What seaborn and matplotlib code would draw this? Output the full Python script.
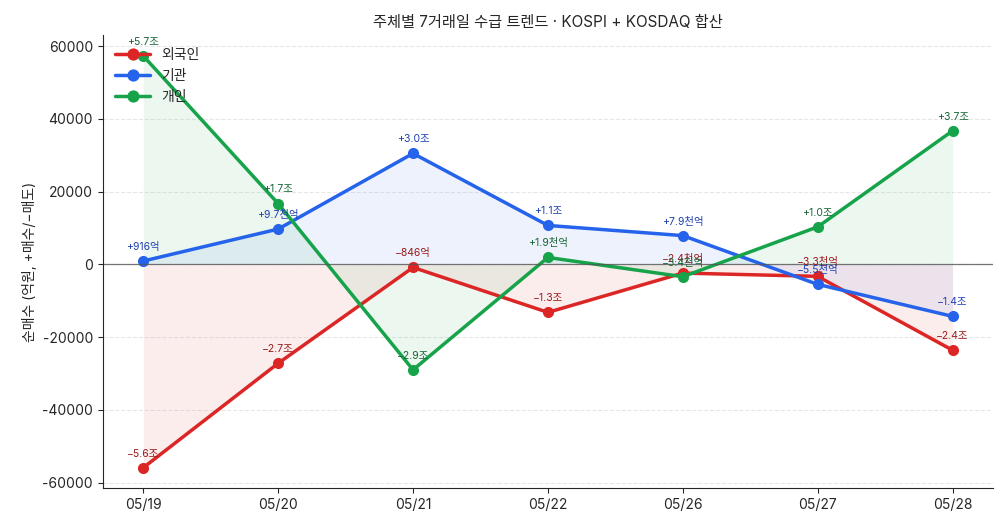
import numpy as np
import pandas as pd
import matplotlib
matplotlib.use("Agg")
import matplotlib.pyplot as plt
import seaborn as sns

dates = ["05/19", "05/20", "05/21", "05/22", "05/26", "05/27", "05/28"]
foreign = [-55900, -27200, -846, -13200, -2400, -3300, -23600]
institution = [916, 9700, 30500, 10700, 7900, -5500, -14300]
individual = [57300, 16700, -29000, 1900, -3400, 10300, 36700]

names = ["외국인", "기관", "개인"]
colors = ["#dc2626", "#2563eb", "#16a34a"]
text_colors = ["#991b1b", "#1e40af", "#166534"]

sns.set_style("ticks")
plt.rcParams['font.family'] = ['Inter', 'Noto Sans CJK KR', 'DejaVu Sans']
plt.rcParams['axes.unicode_minus'] = False

rows = []
for name, vals in zip(names, [foreign, institution, individual]):
    for i, v in enumerate(vals):
        rows.append({"x": i, "date": dates[i], "주체": name, "value": v})
df = pd.DataFrame(rows)


def fmt(v):
    sign = "+" if v >= 0 else "−"
    a = abs(v)
    if a >= 10000:
        return f"{sign}{a / 10000:.1f}조"
    if a >= 1000:
        return f"{sign}{a / 1000:.1f}천억"
    return f"{sign}{a:.0f}억"


fig, ax = plt.subplots(figsize=(10.08, 5.27), dpi=100)

sns.lineplot(data=df, x="x", y="value", hue="주체", hue_order=names,
             palette=colors, marker="o", markersize=8, markeredgewidth=0,
             linewidth=2.5, ax=ax)

for name, c, tc in zip(names, colors, text_colors):
    sub = df[df["주체"] == name]
    ax.fill_between(sub["x"], 0, sub["value"], color=c, alpha=0.08, linewidth=0)
    for _, r in sub.iterrows():
        ax.annotate(fmt(r["value"]), (r["x"], r["value"]), textcoords="offset points",
                    xytext=(0, 8), ha="center", fontsize=7.5, color=tc)

ax.axhline(0, color="#555555", linewidth=0.9, alpha=0.8)
ax.grid(axis="y", linestyle="--", color="#dddddd", alpha=0.7)
ax.set_xticks(range(len(dates)))
ax.set_xticklabels(dates)
ax.tick_params(labelsize=10)
ax.set_xlim(-0.3, len(dates) - 0.7)
ax.set_xlabel("")
ax.set_ylabel("순매수 (억원, +매수/−매도)", fontsize=10)
ax.set_title("주체별 7거래일 수급 트렌드 · KOSPI + KOSDAQ 합산", fontsize=11)
ax.legend(loc="upper left", frameon=False, fontsize=10, title=None,
          handlelength=2.5, markerscale=1.1)
sns.despine(ax=ax)

plt.tight_layout()
fig.subplots_adjust(left=0.102)
plt.savefig("out.png", dpi=100)
plt.close()
